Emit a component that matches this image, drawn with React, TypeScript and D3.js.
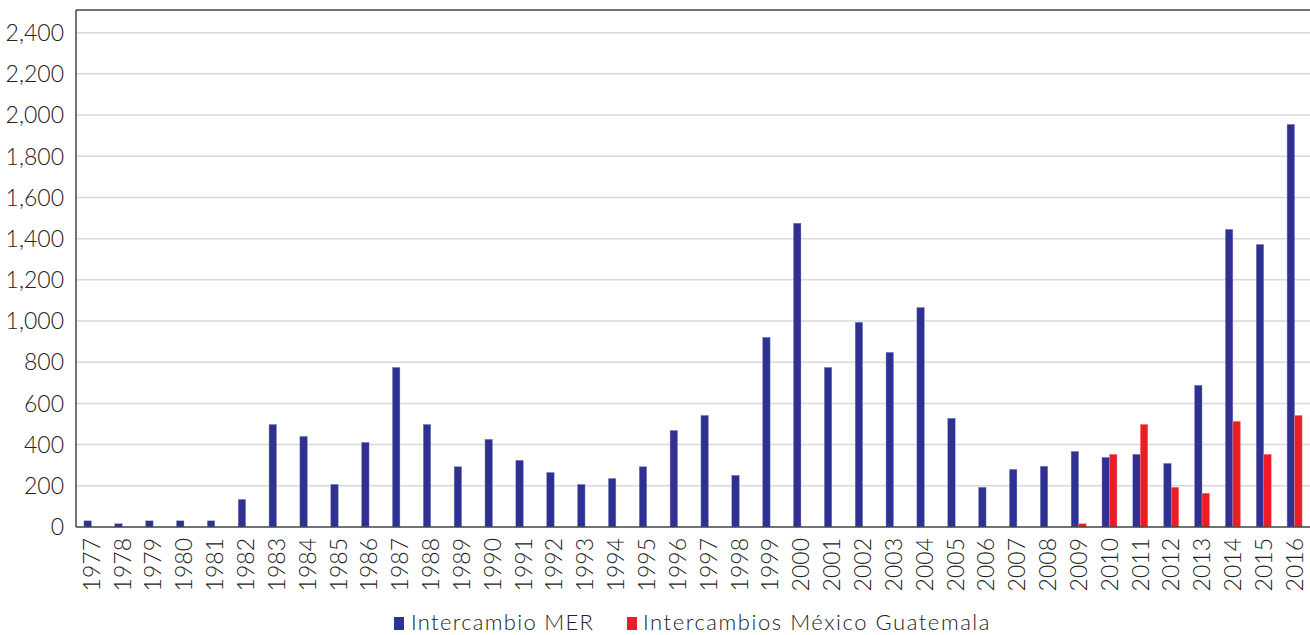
import React from "react";
import * as d3 from "d3";

const years = [
  "1977","1978","1979","1980","1981","1982","1983","1984","1985","1986",
  "1987","1988","1989","1990","1991","1992","1993","1994","1995","1996",
  "1997","1998","1999","2000","2001","2002","2003","2004","2005","2006",
  "2007","2008","2009","2010","2011","2012","2013","2014","2015","2016",
];

const mer = [
  30, 16, 30, 30, 30, 134, 498, 440, 207, 411,
  775, 498, 293, 426, 324, 265, 207, 236, 293, 469,
  542, 251, 921, 1475, 775, 994, 848, 1066, 528, 193,
  280, 295, 367, 338, 353, 309, 688, 1445, 1372, 1955,
];

const mexGua = [
  0, 0, 0, 0, 0, 0, 0, 0, 0, 0,
  0, 0, 0, 0, 0, 0, 0, 0, 0, 0,
  0, 0, 0, 0, 0, 0, 0, 0, 0, 0,
  0, 0, 16, 353, 498, 193, 164, 513, 353, 542,
];

const yTicks = [0, 200, 400, 600, 800, 1000, 1200, 1400, 1600, 1800, 2000, 2200, 2400];

const seriesNames = ["Intercambio MER", "Intercambios México Guatemala"];
const seriesColors = ["#2E3192", "#ED1C24"];

const W = 1310;
const H = 635;
const M = { left: 76, right: 0, top: 10, bottom: 108 };
const FONT = "Lato, 'Open Sans', sans-serif";

export default function App() {
  const x = d3.scaleBand<string>().domain(years).range([M.left, W - M.right]).paddingInner(0).paddingOuter(0);
  const step = x.step();
  const barW = 7.5;
  const x1 = d3
    .scaleBand<string>()
    .domain(seriesNames)
    .range([step / 2 - barW, step / 2 + barW]);
  const y = d3.scaleLinear().domain([0, 2510]).range([H - M.bottom, M.top]);
  const y0 = y(0);
  const fmt = d3.format(",");
  const series = [mer, mexGua];

  return (
    <svg width={W} height={H} style={{ position: "absolute", left: 0, top: 0, background: "#fff" }}>
      <rect x={0} y={0} width={W} height={H} fill="#fff" />
      {yTicks.filter((t) => t > 0).map((t) => (
        <line key={t} x1={M.left} x2={W} y1={y(t)} y2={y(t)} stroke="#d9d9d9" strokeWidth={1.5} />
      ))}
      {series.map((vals, si) =>
        vals.map((v, i) =>
          v > 0 ? (
            <rect
              key={si + "-" + i}
              x={(x(years[i]) as number) + (x1(seriesNames[si]) as number)}
              y={y(v)}
              width={x1.bandwidth()}
              height={y0 - y(v)}
              fill={seriesColors[si]}
              stroke={si === 0 ? "#8e90c8" : "#f58a8e"}
              strokeWidth={0.4}
            />
          ) : null
        )
      )}
      <line x1={M.left} x2={W} y1={M.top} y2={M.top} stroke="#444" strokeWidth={1.5} />
      <line x1={M.left} x2={M.left} y1={M.top} y2={y0} stroke="#444" strokeWidth={1.5} />
      <line x1={M.left} x2={W} y1={y0} y2={y0} stroke="#444" strokeWidth={1.5} />
      {yTicks.map((t) => (
        <text
          key={"yt" + t}
          x={64}
          y={y(t)}
          dy="0.36em"
          textAnchor="end"
          fontFamily={FONT}
          fontSize={23}
          fontWeight={300}
          fill="#222"
        >
          {fmt(t)}
        </text>
      ))}
      {years.map((yr) => {
        const cx = (x(yr) as number) + step / 2;
        return (
          <text
            key={"xt" + yr}
            transform={`translate(${cx},${y0 + 11}) rotate(-90)`}
            textAnchor="end"
            dy="0.36em"
            fontFamily={FONT}
            fontSize={23}
            fontWeight={300}
            fill="#222"
          >
            {yr}
          </text>
        );
      })}
      <rect x={394} y={617} width={10} height={13} fill={seriesColors[0]} />
      <text x={411} y={630} fontFamily={FONT} fontSize={22} fontWeight={300} letterSpacing={1.3} fill="#222">
        {seriesNames[0]}
      </text>
      <rect x={627} y={617} width={10} height={13} fill={seriesColors[1]} />
      <text x={643} y={630} fontFamily={FONT} fontSize={22} fontWeight={300} letterSpacing={1.55} fill="#222">
        {seriesNames[1]}
      </text>
    </svg>
  );
}
